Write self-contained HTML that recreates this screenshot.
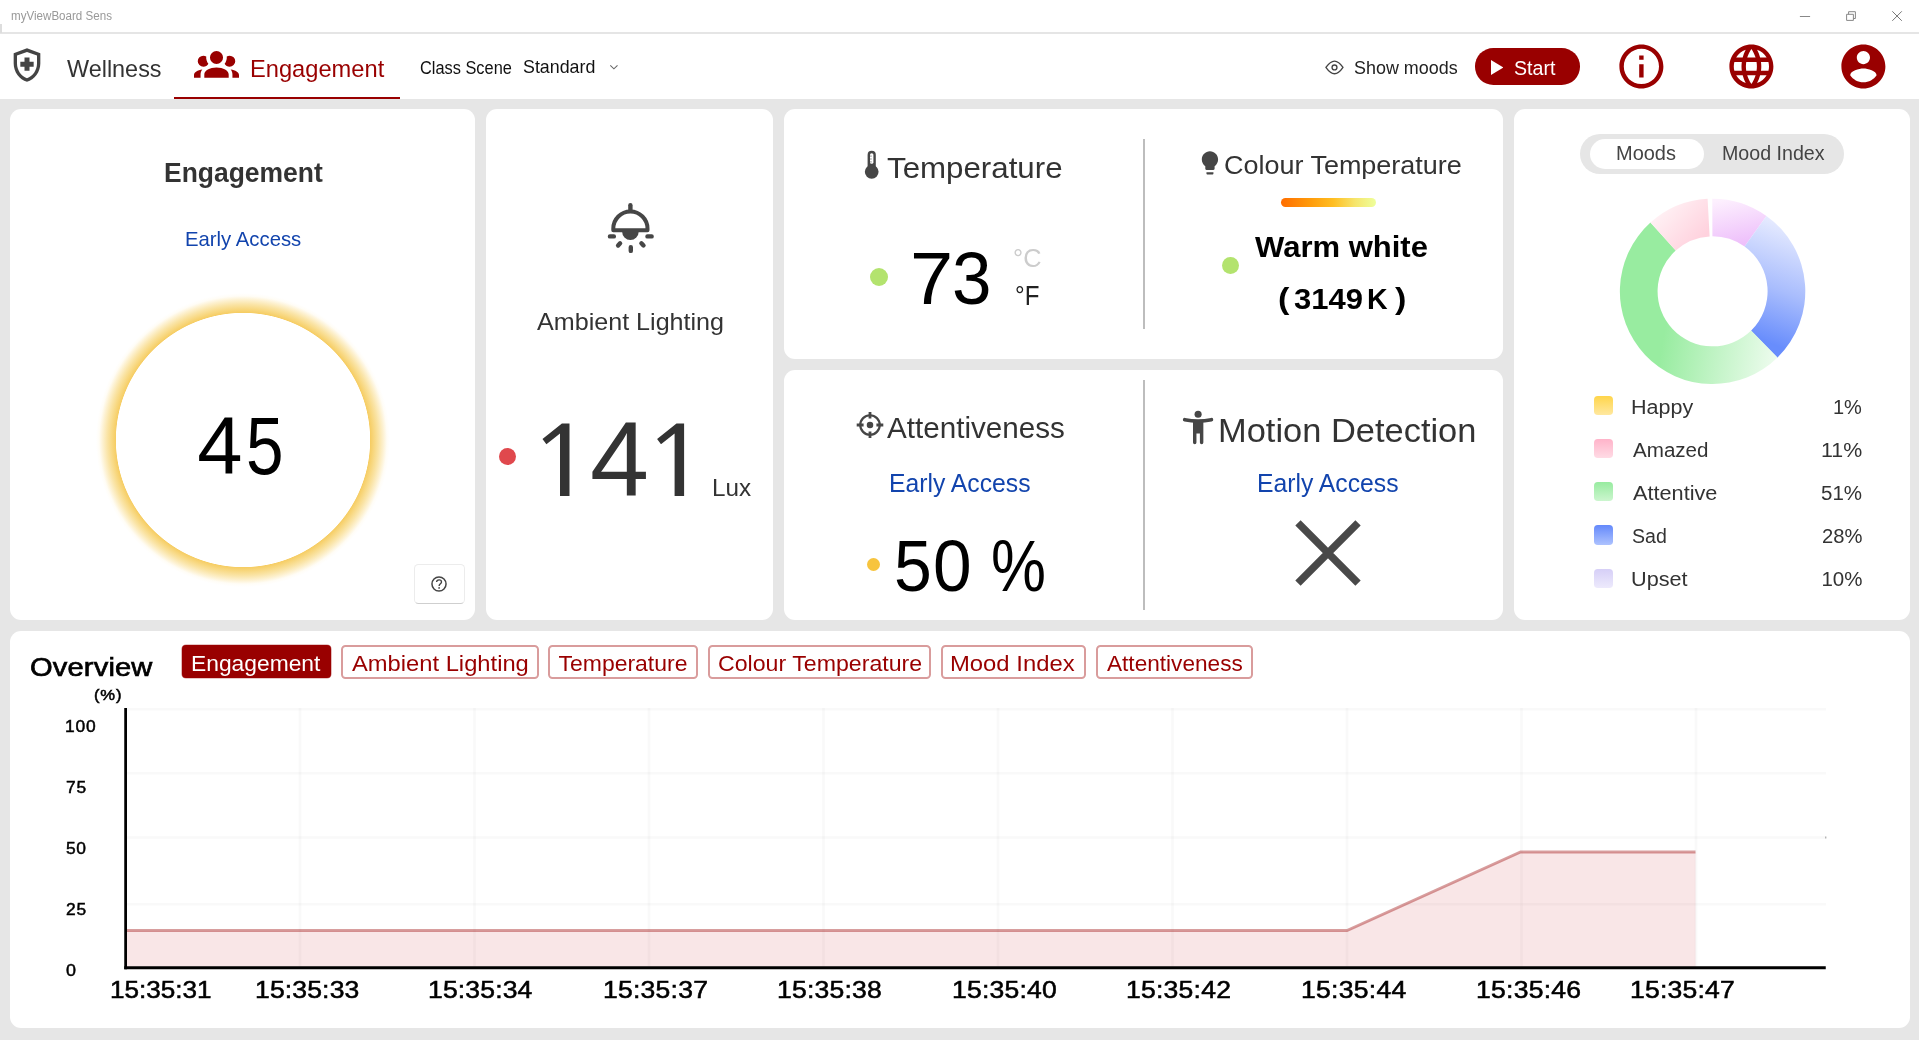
<!DOCTYPE html>
<html><head><meta charset="utf-8"><title>myViewBoard Sens</title>
<style>
*{margin:0;padding:0;box-sizing:border-box}
html,body{width:1919px;height:1040px;overflow:hidden;background:#e6e6e6;font-family:"Liberation Sans",sans-serif}
.abs{position:absolute}
.t{position:absolute;white-space:nowrap;line-height:1;transform-origin:0 50%;font-family:"Liberation Sans",sans-serif}
.card{position:absolute;background:#fff;border-radius:11px}
.ob{position:absolute;top:644.9px;height:34px;border:2px solid #d99c9c;border-radius:4.5px;background:#fff}
</style></head><body>
<div class="abs" style="left:0;top:0;width:1919px;height:99px;background:#fff"></div>
<div class="abs" style="left:0;top:31.9px;width:1919px;height:2px;background:#e5e5e5"></div>
<div class="abs" style="left:0;top:24px;width:1.5px;height:9px;background:#ddd"></div>
<div class="abs" style="left:174px;top:96.5px;width:226px;height:2.5px;background:#990000"></div>

<!-- cards -->
<div class="card" style="left:10px;top:108.9px;width:465.1px;height:511.3px"></div>
<div class="card" style="left:485.8px;top:108.9px;width:287.3px;height:511.3px"></div>
<div class="card" style="left:783.75px;top:108.9px;width:719.3px;height:249.9px"></div>
<div class="card" style="left:783.75px;top:370px;width:719.3px;height:250.2px"></div>
<div class="card" style="left:1513.75px;top:108.9px;width:396.25px;height:511.3px"></div>
<div class="card" style="left:10px;top:630.8px;width:1900.1px;height:397.4px"></div>

<!-- dividers -->
<div class="abs" style="left:1143px;top:139px;width:1.6px;height:190px;background:#bdbdbd"></div>
<div class="abs" style="left:1143px;top:380px;width:1.6px;height:229.5px;background:#bdbdbd"></div>

<!-- glow circle -->
<div class="abs" style="left:92.75px;top:290px;width:300px;height:300px;border-radius:50%;background:radial-gradient(circle closest-side,#fff 0,#fff 84.5%,#f6cd64 85%,#f8d881 87.5%,#fae4a6 90.5%,#fdf1d0 93.5%,rgba(255,251,240,0.6) 96%,rgba(255,255,255,0) 98%)"></div>

<!-- help button -->
<div class="abs" style="left:414.2px;top:564.1px;width:50.6px;height:39.7px;border:1px solid #ececec;border-bottom:1.3px solid #cfcfcf;border-radius:4.5px;background:#fff"></div>
<svg class="abs" style="left:429.05px;top:573.85px" width="20" height="20" viewBox="0 0 20 20"><circle cx="10" cy="10" r="7.05" fill="none" stroke="#444" stroke-width="1.5"/><path d="M7.6 8.1C7.6 6.6 8.7 5.8 10.1 5.8C11.5 5.8 12.5 6.7 12.5 7.9C12.5 9.6 10.1 9.8 10.1 11.9" fill="none" stroke="#444" stroke-width="1.35"/><circle cx="10.1" cy="13.9" r="0.85" fill="#444"/></svg>

<!-- toggle pill -->
<div class="abs" style="left:1580.2px;top:134px;width:263.5px;height:40px;border-radius:20px;background:#e6e6e6"></div>
<div class="abs" style="left:1590px;top:139px;width:113.6px;height:30.2px;border-radius:15.1px;background:#fff"></div>

<!-- colour temp bar -->
<div class="abs" style="left:1280.75px;top:198px;width:95.5px;height:9px;border-radius:4.5px;background:linear-gradient(90deg,#ff6d00 0%,#ff9a0a 30%,#ffbe22 55%,#f6e56c 78%,#eeff9c 100%)"></div>

<!-- dots -->
<div class="abs" style="left:499.25px;top:447.75px;width:17px;height:17px;border-radius:50%;background:#e0484d"></div>
<div class="abs" style="left:870px;top:267.5px;width:18.2px;height:18.2px;border-radius:50%;background:#b3e36e"></div>
<div class="abs" style="left:1221.9px;top:256.8px;width:16.8px;height:16.8px;border-radius:50%;background:#b3e36e"></div>
<div class="abs" style="left:866.75px;top:557.9px;width:13.6px;height:13.6px;border-radius:50%;background:#f7c43e"></div>

<!-- Start button -->
<div class="abs" style="left:1475px;top:48px;width:104.9px;height:36.7px;border-radius:18.35px;background:#990000"></div>
<svg class="abs" style="left:1490.8px;top:59.7px" width="12.4" height="15" viewBox="0 0 12.4 15"><path d="M0 0L12.4 7.5L0 15Z" fill="#fff"/></svg>

<!-- overview buttons -->
<div class="abs" style="left:181.9px;top:645.4px;width:149.1px;height:33.1px;border-radius:4px;background:#990000;box-shadow:0 0 0 0.6px rgba(153,0,0,0.45)"></div>
<div class="ob" style="left:340.75px;width:198px"></div>
<div class="ob" style="left:548.25px;width:149.25px"></div>
<div class="ob" style="left:707.5px;width:223.25px"></div>
<div class="ob" style="left:941.25px;width:144.25px"></div>
<div class="ob" style="left:1095.75px;width:157.5px"></div>

<div class="abs" style="left:1593.6px;top:395.7px;width:19.2px;height:19.3px;border-radius:3.8px;background:linear-gradient(#ffd54a,#ffe8a0)"></div>
<div class="abs" style="left:1593.6px;top:438.9px;width:19.2px;height:19.3px;border-radius:3.8px;background:linear-gradient(#ffb3c9,#ffdbe5)"></div>
<div class="abs" style="left:1593.6px;top:481.7px;width:19.2px;height:19.3px;border-radius:3.8px;background:linear-gradient(#97eb9f,#ccf6cf)"></div>
<div class="abs" style="left:1593.6px;top:525.4px;width:19.2px;height:19.3px;border-radius:3.8px;background:linear-gradient(#6489fb,#adc2fe)"></div>
<div class="abs" style="left:1593.6px;top:568.9px;width:19.2px;height:19.3px;border-radius:3.8px;background:linear-gradient(#d6cff7,#edeafc)"></div>


<svg class="abs" style="left:0;top:0" width="1919" height="1040" viewBox="0 0 1919 1040">
<defs>
<linearGradient id="gU" gradientUnits="userSpaceOnUse" x1="1732.6" y1="197.35000000000002" x2="1742.6" y2="243.35000000000002"><stop offset="0" stop-color="#fdf0fe"/><stop offset="1" stop-color="#eec0fb"/></linearGradient>
<linearGradient id="gS" gradientUnits="userSpaceOnUse" x1="1802.6" y1="227.35000000000002" x2="1752.6" y2="357.35"><stop offset="0" stop-color="#e9edff"/><stop offset="0.48" stop-color="#a9bdfd"/><stop offset="0.86" stop-color="#688dfc"/></linearGradient>
<linearGradient id="gA" gradientUnits="userSpaceOnUse" x1="1662.6" y1="341.35" x2="1784.6" y2="363.35"><stop offset="0" stop-color="#98eca0"/><stop offset="1" stop-color="#f4fdf4"/></linearGradient>
<linearGradient id="gZ" gradientUnits="userSpaceOnUse" x1="1700.6" y1="239.35000000000002" x2="1662.6" y2="205.35000000000002"><stop offset="0" stop-color="#ffd2de"/><stop offset="1" stop-color="#fff2f5"/></linearGradient>
</defs>
<path d="M1712.28 198.65A92.7 92.7 0 0 1 1766.43 215.88L1744.54 246.57A55 55 0 0 0 1712.41 236.35Z" fill="url(#gU)"/>
<path d="M1766.43 215.88A92.7 92.7 0 0 1 1777.34 357.69L1751.01 330.71A55 55 0 0 0 1744.54 246.57Z" fill="url(#gS)"/>
<path d="M1777.57 357.47A92.7 92.7 0 1 1 1650.45 222.57L1675.73 250.54A55 55 0 1 0 1751.15 330.58Z" fill="url(#gA)"/>
<path d="M1650.45 222.57A92.7 92.7 0 0 1 1707.59 198.79L1709.63 236.43A55 55 0 0 0 1675.73 250.54Z" fill="url(#gZ)"/>
</svg>

<svg class="abs" style="left:0;top:0" width="1919" height="1040" viewBox="0 0 1919 1040">
<rect x="127" y="707.9499999999999" width="1699" height="2.7" fill="rgba(0,0,0,0.024)"/><rect x="127" y="771.9499999999999" width="1699" height="2.7" fill="rgba(0,0,0,0.024)"/><rect x="127" y="836.15" width="1699" height="2.7" fill="rgba(0,0,0,0.024)"/><rect x="127" y="902.9499999999999" width="1699" height="2.7" fill="rgba(0,0,0,0.024)"/><rect x="298.65" y="708" width="2.7" height="258.5" fill="rgba(0,0,0,0.022)"/><rect x="473.15" y="708" width="2.7" height="258.5" fill="rgba(0,0,0,0.022)"/><rect x="647.65" y="708" width="2.7" height="258.5" fill="rgba(0,0,0,0.022)"/><rect x="822.15" y="708" width="2.7" height="258.5" fill="rgba(0,0,0,0.022)"/><rect x="996.65" y="708" width="2.7" height="258.5" fill="rgba(0,0,0,0.022)"/><rect x="1171.15" y="708" width="2.7" height="258.5" fill="rgba(0,0,0,0.022)"/><rect x="1345.65" y="708" width="2.7" height="258.5" fill="rgba(0,0,0,0.022)"/><rect x="1520.15" y="708" width="2.7" height="258.5" fill="rgba(0,0,0,0.022)"/><rect x="1694.65" y="708" width="2.7" height="258.5" fill="rgba(0,0,0,0.022)"/>
<polygon points="127,930.5 1347,930.5 1520.6,852 1695.5,852 1695.5,966.5 127,966.5" fill="rgba(200,10,20,0.1)"/>
<polyline points="127,930.5 1347,930.5 1520.6,852 1695.5,852" fill="none" stroke="rgba(153,0,0,0.38)" stroke-width="2.9"/>
<rect x="124.25" y="708" width="2.75" height="261.25" fill="#000"/>
<rect x="124.25" y="966.25" width="1701.5" height="3" fill="#000"/>
<rect x="1825.3" y="836.5" width="1" height="2" fill="#999"/>
</svg>

<svg class="abs" style="left:0;top:0" width="1919" height="1040" viewBox="0 0 1919 1040"><g fill="#333"><path id="one" d="M561.9 423.4H569.5V495.9H560V433.6L546.4 444.2L542.5 439Z"/><path d="M561.9 423.4H569.5V495.9H560V433.6L546.4 444.2L542.5 439Z" transform="translate(114.6 0)"/></g></svg>
<!-- ICONS -->
<!-- shield (Material health_and_safety outlined) 40px -->
<svg class="abs" style="left:6.5px;top:44.8px" width="40" height="40" viewBox="0 0 24 24" fill="#444"><path d="M10.5 13H8v-3h2.5V7.5h3V10H16v3h-2.5v2.5h-3V13zM12 2L4 5v6.09c0 5.05 3.41 9.76 8 10.91 4.59-1.15 8-5.86 8-10.91V5l-8-3zm6 9.09c0 4-2.55 7.7-6 8.83-3.45-1.13-6-4.82-6-8.83V6.31l6-2.12 6 2.12v4.78z"/></svg>
<!-- group (MDI account-group) -->
<svg class="abs" style="left:193.9px;top:41.4px" width="45" height="44" viewBox="0 0 24 24" preserveAspectRatio="none" fill="#990000"><path d="M12,5.5A3.5,3.5 0 0,1 15.5,9A3.5,3.5 0 0,1 12,12.5A3.5,3.5 0 0,1 8.5,9A3.5,3.5 0 0,1 12,5.5M5,8C5.56,8 6.08,8.15 6.53,8.42C6.38,9.85 6.8,11.27 7.66,12.38C7.16,13.34 6.16,14 5,14A3,3 0 0,1 2,11A3,3 0 0,1 5,8M19,8A3,3 0 0,1 22,11A3,3 0 0,1 19,14C17.84,14 16.84,13.34 16.34,12.38C17.2,11.27 17.62,9.85 17.47,8.42C17.92,8.15 18.44,8 19,8M5.5,18.25C5.5,16.18 8.41,14.5 12,14.5C15.59,14.5 18.5,16.18 18.5,18.25V20H5.5V18.25M0,20V18.5C0,17.11 1.89,15.94 4.45,15.6C3.86,16.28 3.5,17.22 3.5,18.25V20H0M24,20H20.5V18.25C20.5,17.22 20.14,16.28 19.55,15.6C22.11,15.94 24,17.11 24,18.5V20Z"/></svg>
<!-- chevron -->
<svg class="abs" style="left:608px;top:62px" width="12" height="10" viewBox="0 0 12 10"><path d="M2.3 3.3L5.9 6.8L9.5 3.3" fill="none" stroke="#666" stroke-width="1.05"/></svg>
<!-- eye -->
<svg class="abs" style="left:1320px;top:55px" width="30" height="25" viewBox="0 0 30 25"><path d="M5.9 12.4C8.6 8.6 11.3 6.1 14.5 6.1S20.4 8.6 23 12.4C20.4 16.2 17.7 18.7 14.5 18.7S8.6 16.2 5.9 12.4Z" fill="none" stroke="#444" stroke-width="1.35" stroke-linejoin="round"/><circle cx="14.5" cy="12.4" r="2.45" fill="none" stroke="#444" stroke-width="1.35"/></svg>
<!-- info / globe / account (Material, 52.8px) -->
<svg class="abs" style="left:1615.1px;top:40px" width="52.8" height="52.8" viewBox="0 0 24 24" fill="#990000"><path d="M11 17h2v-6h-2v6zm1-15C6.48 2 2 6.48 2 12s4.48 10 10 10 10-4.48 10-10S17.52 2 12 2zm0 18c-4.41 0-8-3.59-8-8s3.59-8 8-8 8 3.59 8 8-3.59 8-8 8zM11 9h2V7h-2v2z"/></svg>
<svg class="abs" style="left:1725.1px;top:40px" width="52.8" height="52.8" viewBox="0 0 24 24" fill="#990000"><path d="M11.99 2C6.47 2 2 6.48 2 12s4.47 10 9.99 10C17.52 22 22 17.52 22 12S17.52 2 11.99 2zm6.93 6h-2.95c-.32-1.25-.78-2.45-1.38-3.56 1.84.63 3.37 1.91 4.33 3.56zM12 4.04c.83 1.2 1.48 2.53 1.91 3.96h-3.82c.43-1.43 1.08-2.76 1.91-3.96zM4.26 14C4.1 13.36 4 12.69 4 12s.1-1.36.26-2h3.38c-.08.66-.14 1.32-.14 2 0 .68.06 1.34.14 2H4.26zm.82 2h2.95c.32 1.25.78 2.45 1.38 3.56-1.84-.63-3.37-1.9-4.33-3.56zm2.95-8H5.08c.96-1.66 2.49-2.93 4.33-3.56C8.81 5.55 8.35 6.75 8.03 8zM12 19.96c-.83-1.2-1.48-2.53-1.91-3.96h3.82c-.43 1.43-1.08 2.76-1.91 3.96zM14.34 14H9.66c-.09-.66-.16-1.32-.16-2 0-.68.07-1.35.16-2h4.68c.09.65.16 1.32.16 2 0 .68-.07 1.34-.16 2zm.25 5.56c.6-1.11 1.06-2.31 1.38-3.56h2.95c-.96 1.65-2.49 2.93-4.33 3.56zM16.36 14c.08-.66.14-1.32.14-2 0-.68-.06-1.34-.14-2h3.38c.16.64.26 1.31.26 2s-.1 1.36-.26 2h-3.38z"/></svg>
<svg class="abs" style="left:1837.1px;top:40px" width="52.8" height="52.8" viewBox="0 0 24 24" fill="#990000"><path d="M12 2C6.48 2 2 6.48 2 12s4.48 10 10 10 10-4.48 10-10S17.52 2 12 2zm0 3c1.66 0 3 1.34 3 3s-1.34 3-3 3-3-1.34-3-3 1.34-3 3-3zm0 14.2c-2.5 0-4.71-1.28-6-3.22.03-1.99 4-3.08 6-3.08 1.99 0 5.97 1.09 6 3.08-1.29 1.94-3.5 3.22-6 3.22z"/></svg>
<!-- window controls -->
<svg class="abs" style="left:1795px;top:8px" width="115" height="18" viewBox="0 0 115 18"><path d="M4.9 8.5H15.1" stroke="#888" stroke-width="1" fill="none"/><path d="M51.6 6.3H58.4V12.4H51.6ZM53.6 6.3V3.7H60.4V10.5H58.4" stroke="#888" stroke-width="1" fill="none"/><path d="M97.3 3.3L106.8 12.8M106.8 3.3L97.3 12.8" stroke="#777" stroke-width="1" fill="none"/></svg>
<!-- lamp -->
<svg class="abs" style="left:590px;top:190px" width="80" height="75" viewBox="0 0 80 75"><g fill="none" stroke="#464646" stroke-width="4.4" stroke-linecap="round"><path d="M40.4 15.3V20"/><path d="M19.95 46.4H23.85M57.45 46.4H61.65M28.1 55.5L30.1 53.3M51.4 53.3L53.5 55.5M40.8 57.2V60.9"/></g><path d="M23.3 40.2V38.6A17.1 17.1 0 0 1 57.5 38.6V40.2Z" fill="none" stroke="#464646" stroke-width="4" stroke-linejoin="round"/><path d="M32.1 41.5A8.3 8.6 0 0 0 48.7 41.5Z" fill="#464646"/></svg>
<!-- thermometer -->
<svg class="abs" style="left:864px;top:150px" width="16" height="30" viewBox="0 0 16 30"><path d="M3.6 4.9A4.1 4.1 0 0 1 11.8 4.9V18H3.6Z" fill="#464646"/><circle cx="7.7" cy="21.8" r="6.85" fill="#464646"/><rect x="6" y="3.2" width="3.4" height="10.6" rx="1.6" fill="#fff"/><path d="M6 6.1H7.8M6 9H7.8M6 11.9H7.8" stroke="#888" stroke-width="0.9"/></svg>
<!-- bulb (Material lightbulb) -->
<svg class="abs" style="left:1195.5px;top:148.7px" width="27.9" height="27.9" viewBox="0 0 24 24" fill="#464646"><path d="M9 21c0 .55.45 1 1 1h4c.55 0 1-.45 1-1v-1H9v1zm3-19C8.14 2 5 5.14 5 9c0 2.38 1.19 4.47 3 5.74V17c0 .55.45 1 1 1h6c.55 0 1-.45 1-1v-2.26c1.81-1.27 3-3.36 3-5.74 0-3.86-3.14-7-7-7z"/></svg>
<!-- crosshair -->
<svg class="abs" style="left:855.3px;top:410.1px" width="30" height="30" viewBox="0 0 30 30"><g fill="none" stroke="#464646"><circle cx="15" cy="15" r="9.75" stroke-width="2.2"/><path d="M15 1.9V8.6M15 21.4V28.1M1.7 15H8.6M21.4 15H28.3" stroke-width="2.8"/></g><circle cx="15" cy="15" r="3.25" fill="#464646"/></svg>
<!-- accessibility_new rounded -->
<svg class="abs" style="left:1170px;top:400px" width="60" height="50" viewBox="0 0 60 50"><circle cx="28.1" cy="14.3" r="3.55" fill="#464646"/><path d="M14.7 19.7Q28.1 22.5 41.4 19.7" fill="none" stroke="#464646" stroke-width="3.7" stroke-linecap="round"/><path d="M23 20.9H33.35V42.5A1.72 1.72 0 0 1 29.9 42.5V33.6H26.45V42.5A1.72 1.72 0 0 1 23 42.5Z" fill="#464646"/></svg>
<!-- big X -->
<svg class="abs" style="left:1288.05px;top:513.05px" width="80" height="80" viewBox="0 0 80 80"><path d="M9.97 9.97L70.03 70.03M70.03 9.97L9.97 70.03" stroke="#494949" stroke-width="7.5" fill="none"/></svg>


<div id="txt" style="position:absolute;left:0;top:0;width:1919px;height:1040px;will-change:transform">
<span class="t" style="left:11.22px;top:10.29px;font-size:12.65px;color:#999999;transform:scaleX(0.9173);">myViewBoard Sens</span>
<span class="t" style="left:66.78px;top:56.98px;font-size:24.71px;color:#333333;transform:scaleX(0.9477);">Wellness</span>
<span class="t" style="left:250.08px;top:56.98px;font-size:24.71px;color:#990000;transform:scaleX(0.9583);">Engagement</span>
<span class="t" style="left:419.82px;top:59.10px;font-size:18.9px;color:#111;transform:scaleX(0.8660);">Class Scene</span>
<span class="t" style="left:522.92px;top:58.16px;font-size:18.6px;color:#111;transform:scaleX(0.9581);">Standard</span>
<span class="t" style="left:1354.06px;top:59.36px;font-size:18.6px;color:#222;transform:scaleX(0.9643);">Show moods</span>
<span class="t" style="left:1513.68px;top:59.34px;font-size:19.33px;color:#fff;transform:scaleX(1.0140);">Start</span>
<span class="t" style="left:164.25px;top:160.04px;font-size:26.89px;color:#333333;font-weight:700;transform:scaleX(0.9840);">Engagement</span>
<span class="t" style="left:184.55px;top:229.08px;font-size:20.93px;color:#1244ad;transform:scaleX(0.9705);">Early Access</span>
<span class="t" style="left:197.13px;top:405.09px;font-size:81.4px;color:#000;">4</span>
<span class="t" style="left:246.29px;top:405.09px;font-size:81.4px;color:#000;transform:scaleX(0.8291);">5</span>
<span class="t" style="left:536.86px;top:309.88px;font-size:24.71px;color:#333333;transform:scaleX(1.0164);">Ambient Lighting</span>
<span class="t" style="left:590.21px;top:406.58px;font-size:105.52px;color:#333333;transform:scaleX(1.0061);">4</span>
<span class="t" style="left:712.09px;top:476.47px;font-size:24.13px;color:#333333;transform:scaleX(1.0044);">Lux</span>
<span class="t" style="left:887.11px;top:154.34px;font-size:28.78px;color:#333333;transform:scaleX(1.0873);">Temperature</span>
<span class="t" style="left:910.06px;top:242.13px;font-size:74.27px;color:#000;transform:scaleX(1.0456);">7</span>
<span class="t" style="left:952.08px;top:242.13px;font-size:74.27px;color:#000;transform:scaleX(0.9562);">3</span>
<span class="t" style="left:1013.37px;top:245.28px;font-size:26.6px;color:#cccccc;transform:scaleX(0.9526);">°C</span>
<span class="t" style="left:1015.24px;top:283.12px;font-size:27.03px;color:#222;transform:scaleX(0.8913);">°F</span>
<span class="t" style="left:1224.14px;top:152.80px;font-size:25.87px;color:#333333;transform:scaleX(1.0426);">Colour Temperature</span>
<span class="t" style="left:1255.01px;top:231.82px;font-size:29.51px;color:#000;font-weight:700;transform:scaleX(1.0515);">Warm white</span>
<span class="t" style="left:1277.60px;top:283.92px;font-size:29.51px;color:#000;font-weight:700;transform:scaleX(1.1603);">(</span>
<span class="t" style="left:1294.22px;top:283.67px;font-size:29.8px;color:#000;font-weight:700;transform:scaleX(1.0403);">3149</span>
<span class="t" style="left:1366.62px;top:283.67px;font-size:29.8px;color:#000;font-weight:700;transform:scaleX(0.9577);">K</span>
<span class="t" style="left:1395.25px;top:283.92px;font-size:29.51px;color:#000;font-weight:700;transform:scaleX(1.1580);">)</span>
<span class="t" style="left:887.40px;top:414.29px;font-size:29.07px;color:#333333;transform:scaleX(1.0194);">Attentiveness</span>
<span class="t" style="left:888.87px;top:471.15px;font-size:25.58px;color:#1244ad;transform:scaleX(0.9665);">Early Access</span>
<span class="t" style="left:893.88px;top:531.29px;font-size:71.95px;color:#000;transform:scaleX(0.9444);">5</span>
<span class="t" style="left:933.03px;top:531.29px;font-size:71.95px;color:#000;transform:scaleX(0.9647);">0</span>
<span class="t" style="left:990.97px;top:531.29px;font-size:71.95px;color:#000;transform:scaleX(0.8594);">%</span>
<span class="t" style="left:1218.11px;top:413.73px;font-size:33.28px;color:#333333;transform:scaleX(1.0352);">Motion Detection</span>
<span class="t" style="left:1257.37px;top:471.15px;font-size:25.58px;color:#1244ad;transform:scaleX(0.9665);">Early Access</span>
<span class="t" style="left:1616.05px;top:143.64px;font-size:19.33px;color:#444;transform:scaleX(1.0331);">Moods</span>
<span class="t" style="left:1721.98px;top:143.64px;font-size:19.33px;color:#444;transform:scaleX(1.0157);">Mood Index</span>
<span class="t" style="left:1631.21px;top:396.62px;font-size:20.35px;color:#333333;transform:scaleX(1.0587);">Happy</span>
<span class="t" style="left:1632.90px;top:439.62px;font-size:20.35px;color:#333333;transform:scaleX(1.0118);">Amazed</span>
<span class="t" style="left:1632.90px;top:482.87px;font-size:20.35px;color:#333333;transform:scaleX(1.0661);">Attentive</span>
<span class="t" style="left:1632.03px;top:525.87px;font-size:20.35px;color:#333333;transform:scaleX(0.9621);">Sad</span>
<span class="t" style="left:1631.30px;top:569.12px;font-size:20.35px;color:#333333;transform:scaleX(1.0649);">Upset</span>
<span class="t" style="left:1833.04px;top:396.51px;font-size:20.49px;color:#333333;transform:scaleX(0.9765);">1%</span>
<span class="t" style="left:1821.44px;top:439.51px;font-size:20.49px;color:#333333;transform:scaleX(1.0426);">11%</span>
<span class="t" style="left:1821.11px;top:482.76px;font-size:20.49px;color:#333333;transform:scaleX(1.0024);">51%</span>
<span class="t" style="left:1821.51px;top:525.76px;font-size:20.49px;color:#333333;transform:scaleX(0.9863);">28%</span>
<span class="t" style="left:1821.42px;top:569.01px;font-size:20.49px;color:#333333;">10%</span>
<span class="t" style="left:30.13px;top:653.51px;font-size:26.45px;color:#000;letter-spacing:0.150px;transform:scaleX(1.1000);-webkit-text-stroke:0.7px #000;">Overview</span>
<span class="t" style="left:191.21px;top:652.36px;font-size:22.97px;color:#fff;transform:scaleX(0.9930);">Engagement</span>
<span class="t" style="left:351.72px;top:652.36px;font-size:22.97px;color:#990000;transform:scaleX(1.0334);">Ambient Lighting</span>
<span class="t" style="left:558.50px;top:652.36px;font-size:22.97px;color:#990000;">Temperature</span>
<span class="t" style="left:717.64px;top:652.36px;font-size:22.97px;color:#990000;transform:scaleX(1.0079);">Colour Temperature</span>
<span class="t" style="left:950.13px;top:652.36px;font-size:22.97px;color:#990000;transform:scaleX(1.0379);">Mood Index</span>
<span class="t" style="left:1107.00px;top:652.36px;font-size:22.97px;color:#990000;transform:scaleX(0.9846);">Attentiveness</span>
<span class="t" style="left:94.31px;top:687.00px;font-size:15.12px;color:#000;letter-spacing:0.752px;transform:scaleX(1.1000);-webkit-text-stroke:0.5px #000;">(%)</span>
<span class="t" style="left:65.20px;top:719.19px;font-size:15.84px;color:#000;letter-spacing:0.737px;transform:scaleX(1.1000);-webkit-text-stroke:0.45px #000;">100</span>
<span class="t" style="left:65.92px;top:780.29px;font-size:15.84px;color:#000;letter-spacing:0.792px;transform:scaleX(1.1000);-webkit-text-stroke:0.45px #000;">75</span>
<span class="t" style="left:66.05px;top:841.39px;font-size:15.84px;color:#000;letter-spacing:0.592px;transform:scaleX(1.1000);-webkit-text-stroke:0.45px #000;">50</span>
<span class="t" style="left:66.03px;top:902.49px;font-size:15.84px;color:#000;letter-spacing:0.692px;transform:scaleX(1.1000);-webkit-text-stroke:0.45px #000;">25</span>
<span class="t" style="left:65.92px;top:962.59px;font-size:15.84px;color:#000;transform:scaleX(1.1316);-webkit-text-stroke:0.45px #000;">0</span>
<span class="t" style="left:109.75px;top:978.07px;font-size:24.13px;color:#000;transform:scaleX(1.0823);-webkit-text-stroke:0.55px #000;">15:35:31</span>
<span class="t" style="left:254.82px;top:978.07px;font-size:24.13px;color:#000;letter-spacing:0.128px;transform:scaleX(1.1000);-webkit-text-stroke:0.55px #000;">15:35:33</span>
<span class="t" style="left:428.00px;top:978.07px;font-size:24.13px;color:#000;letter-spacing:0.135px;transform:scaleX(1.1000);-webkit-text-stroke:0.55px #000;">15:35:34</span>
<span class="t" style="left:603.02px;top:978.07px;font-size:24.13px;color:#000;letter-spacing:0.207px;transform:scaleX(1.1000);-webkit-text-stroke:0.55px #000;">15:35:37</span>
<span class="t" style="left:777.00px;top:978.07px;font-size:24.13px;color:#000;letter-spacing:0.193px;transform:scaleX(1.1000);-webkit-text-stroke:0.55px #000;">15:35:38</span>
<span class="t" style="left:952.02px;top:978.07px;font-size:24.13px;color:#000;letter-spacing:0.178px;transform:scaleX(1.1000);-webkit-text-stroke:0.55px #000;">15:35:40</span>
<span class="t" style="left:1126.00px;top:978.07px;font-size:24.13px;color:#000;letter-spacing:0.207px;transform:scaleX(1.1000);-webkit-text-stroke:0.55px #000;">15:35:42</span>
<span class="t" style="left:1301.22px;top:978.07px;font-size:24.13px;color:#000;letter-spacing:0.252px;transform:scaleX(1.1000);-webkit-text-stroke:0.55px #000;">15:35:44</span>
<span class="t" style="left:1476.02px;top:978.07px;font-size:24.13px;color:#000;letter-spacing:0.231px;transform:scaleX(1.1000);-webkit-text-stroke:0.55px #000;">15:35:46</span>
<span class="t" style="left:1630.32px;top:978.07px;font-size:24.13px;color:#000;letter-spacing:0.194px;transform:scaleX(1.1000);-webkit-text-stroke:0.55px #000;">15:35:47</span>
</div>
</body></html>
